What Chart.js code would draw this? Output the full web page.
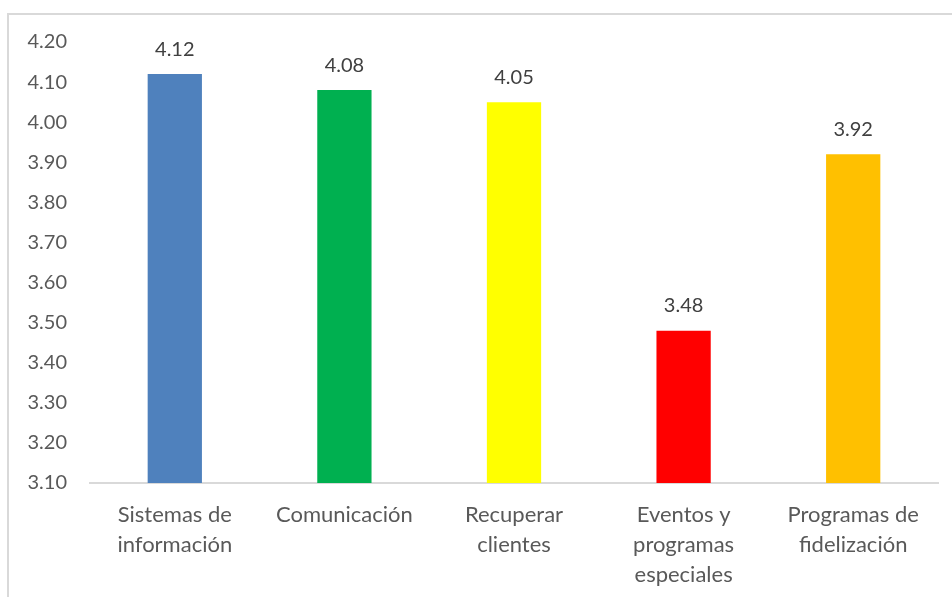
<!DOCTYPE html>
<html>
<head>
<meta charset="utf-8">
<script src="https://cdn.jsdelivr.net/npm/chart.js@4"></script>
<style>
  html, body { margin: 0; padding: 0; background: #fff; overflow: hidden; }
  #frame { position: absolute; left: 7px; top: 13px; width: 1000px; height: 700px; border: 2px solid #d9d9d9; }
  #chart { position: absolute; left: 0; top: 0; }
</style>
</head>
<body>
<div id="frame"></div>
<canvas id="chart" width="952" height="597"></canvas>
<script>
const categories = [
  ['Sistemas de', 'información'],
  'Comunicación',
  ['Recuperar', 'clientes'],
  ['Eventos y', 'programas', 'especiales'],
  ['Programas de', 'fidelización']
];
const scores = [4.12, 4.08, 4.05, 3.48, 3.92];
const barColors = ['#4f81bd', '#00b050', '#ffff00', '#ff0000', '#ffc000'];
const yMin = 3.1;
const yMax = 4.2;
const yStep = 0.1;

// prints each value above its bar
const valueLabels = {
  id: 'valueLabels',
  afterDatasetsDraw(chart) {
    const ctx = chart.ctx;
    const meta = chart.getDatasetMeta(0);
    ctx.save();
    ctx.font = '20px Lato';
    ctx.fillStyle = '#404040';
    ctx.textAlign = 'center';
    ctx.textBaseline = 'middle';
    meta.data.forEach((bar, i) => {
      ctx.fillText(scores[i].toFixed(2), bar.x, bar.y - 25);
    });
    ctx.restore();
  }
};

new Chart(document.getElementById('chart'), {
  type: 'bar',
  data: {
    labels: categories,
    datasets: [{
      data: scores,
      backgroundColor: barColors,
      categoryPercentage: 1,
      barPercentage: 0.32
    }]
  },
  options: {
    responsive: false,
    animation: false,
    layout: { padding: { top: 42, right: 14, left: 0, bottom: 0 } },
    plugins: { legend: { display: false }, tooltip: { enabled: false } },
    scales: {
      x: {
        grid: { display: false, drawTicks: false },
        border: { display: true, color: '#d9d9d9', width: 2 },
        ticks: {
          color: '#595959',
          font: { family: 'Lato', size: 22, lineHeight: 1.364 },
          padding: 17,
          maxRotation: 0,
          autoSkip: false
        },
        afterFit(scale) { scale.height = 114; }
      },
      y: {
        min: yMin,
        max: yMax,
        grid: { display: false, drawTicks: false },
        border: { display: false },
        ticks: {
          stepSize: yStep,
          color: '#595959',
          font: { family: 'Lato', size: 20 },
          padding: 23,
          callback: v => Number(v).toFixed(2)
        },
        afterFit(scale) { scale.width = 90; }
      }
    }
  },
  plugins: [valueLabels]
});
</script>
</body>
</html>
